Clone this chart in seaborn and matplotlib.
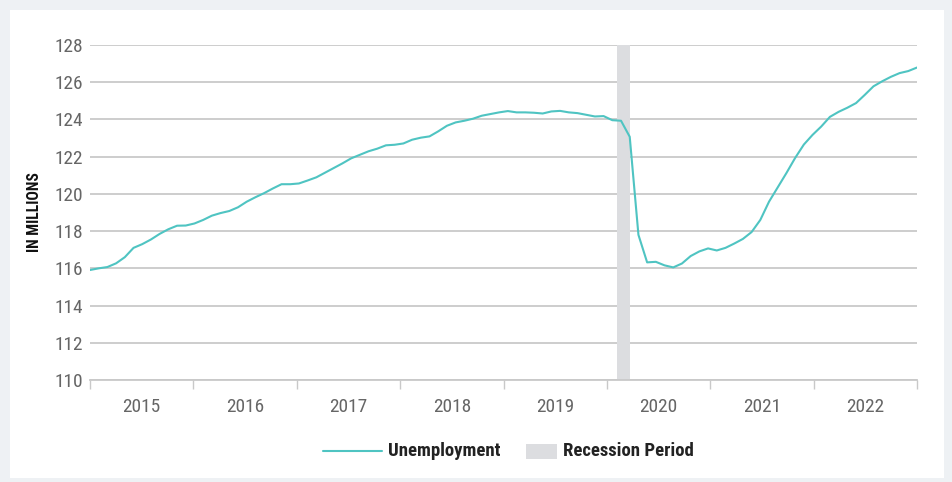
import os
import numpy as np
import pandas as pd
import matplotlib
matplotlib.use("Agg")
import matplotlib.pyplot as plt
from matplotlib import font_manager
from matplotlib.lines import Line2D
from matplotlib.patches import Rectangle
from matplotlib.textpath import TextPath
import seaborn as sns

# monthly values, Jan 2015 .. Dec 2022 (millions)
YEARS = [2015, 2016, 2017, 2018, 2019, 2020, 2021, 2022]
UNEMPLOYMENT = [
    115.91, 116.00, 116.07, 116.27, 116.60, 117.10, 117.30, 117.55, 117.85, 118.10, 118.29, 118.30,
    118.41, 118.60, 118.83, 118.97, 119.08, 119.28, 119.58, 119.82, 120.04, 120.29, 120.52, 120.52,
    120.56, 120.72, 120.89, 121.14, 121.39, 121.64, 121.91, 122.10, 122.29, 122.43, 122.61, 122.64,
    122.71, 122.91, 123.02, 123.09, 123.36, 123.66, 123.84, 123.93, 124.04, 124.20, 124.29, 124.38,
    124.45, 124.38, 124.38, 124.36, 124.32, 124.43, 124.46, 124.38, 124.34, 124.25, 124.16, 124.18,
    123.96, 123.93, 123.07, 117.80, 116.32, 116.35, 116.16, 116.05, 116.26, 116.66, 116.91, 117.07,
    116.96, 117.10, 117.33, 117.58, 117.95, 118.60, 119.58, 120.35, 121.12, 121.93, 122.65, 123.17,
    123.62, 124.14, 124.41, 124.63, 124.88, 125.32, 125.78, 126.05, 126.29, 126.49, 126.60, 126.79,
]
RECESSION = (2020.10, 2020.22)
Y_TICKS = list(range(110, 129, 2))
LINE_LABEL = "Unemployment"
BAND_LABEL = "Recession Period"
Y_LABEL = "IN MILLIONS"

TEAL = "#4fc4c2"
BAND = "#dcdde0"
GRID = "#c9c9c9"


def narrow_font(bold=False):
    # prefer a condensed face if one happens to be installed
    if bold:
        wanted = ["LiberationSansNarrow-Bold.", "RobotoCondensed-Bold.", "OpenSans-CondBold.",
                  "OpenSans_Condensed-Bold.", "DejaVuSansCondensed-Bold."]
    else:
        wanted = ["LiberationSansNarrow-Regular.", "RobotoCondensed-Regular.", "OpenSans-CondLight.",
                  "OpenSans_Condensed-Regular.", "DejaVuSansCondensed."]
    for name in wanted:
        for f in font_manager.fontManager.ttflist:
            if os.path.basename(f.fname).startswith(name):
                return font_manager.FontProperties(fname=f.fname)
    return font_manager.FontProperties(family="DejaVu Sans", weight="bold" if bold else "normal")


def fit_size(text, fp, width_px, cap_px):
    # font size (pt) that roughly hits the reference width and cap height
    p = fp.copy()
    p.set_size(10)
    w = TextPath((0, 0), text, prop=p).get_extents().width * 100 / 72
    h = TextPath((0, 0), "H", prop=p).get_extents().height * 100 / 72
    s_w = 10 * width_px / w
    s_h = 10 * cap_px / h
    return 0.7 * s_w + 0.3 * s_h


sns.set_style("white")
plt.rcParams["font.family"] = ["DejaVu Sans"]

reg_font = narrow_font(False)
bold_font = narrow_font(True)
tick_size = fit_size("2015", reg_font, 35, 15)
legend_size = fit_size(LINE_LABEL, bold_font, 109, 14)
ylabel_size = fit_size(Y_LABEL, bold_font, 73, 13)

df = pd.DataFrame({
    "x": np.linspace(YEARS[0], YEARS[-1] + 1, len(UNEMPLOYMENT)),
    "value": UNEMPLOYMENT,
})

fig = plt.figure(figsize=(9.53, 4.82), dpi=100, facecolor="#eef1f4")
fig.patches.append(Rectangle((10 / 953, 4 / 482), 934 / 953, 468 / 482,
                             transform=fig.transFigure, facecolor="white",
                             edgecolor="none", zorder=-5))
ax = fig.add_axes([90 / 953, 1 - 380 / 482, 827 / 953, 335 / 482])
ax.set_zorder(2)
ax.set_facecolor("none")

ax.axvspan(RECESSION[0], RECESSION[1], color=BAND, lw=0, zorder=1)
sns.lineplot(data=df, x="x", y="value", ax=ax, color=TEAL, lw=1.5, zorder=3)

ax.set_xlim(YEARS[0], YEARS[-1] + 1)
ax.set_ylim(Y_TICKS[0], Y_TICKS[-1])
ax.set_yticks(Y_TICKS)
ax.yaxis.grid(True, color=GRID, lw=1.3, zorder=0)
ax.set_axisbelow(True)

ax.set_xticks(YEARS + [YEARS[-1] + 1])
ax.set_xticklabels([])
ax.set_xticks([y + 0.5 for y in YEARS], minor=True)
ax.set_xticklabels([str(y) for y in YEARS], minor=True)
ax.tick_params(axis="x", which="major", bottom=True, length=6.5, width=1, color=GRID)
ax.tick_params(axis="x", which="minor", bottom=True, length=0, pad=13, labelcolor="#666666")
ax.tick_params(axis="y", length=0, pad=5, labelcolor="#666666")
for lab in ax.get_xticklabels(minor=True) + ax.get_yticklabels():
    lab.set_fontproperties(reg_font)
    lab.set_fontsize(tick_size)

for side in ["left", "right", "top"]:
    ax.spines[side].set_visible(False)
ax.spines["bottom"].set_color(GRID)
ax.spines["bottom"].set_linewidth(1.3)
ax.set_xlabel("")
ax.set_ylabel("")

fig.text(35 / 953, 1 - 212 / 482, Y_LABEL, rotation=90, ha="center", va="center",
         fontproperties=bold_font, fontsize=ylabel_size, color="#111111")

# legend drawn below the plot
ly = 1 - 451 / 482
fig.lines.append(Line2D([323 / 953, 382 / 953], [ly, ly], transform=fig.transFigure,
                        color=TEAL, lw=1.5))
fig.text(388 / 953, ly, LINE_LABEL, ha="left", va="center",
         fontproperties=bold_font, fontsize=legend_size, color="#222222")
fig.patches.append(Rectangle((526 / 953, 1 - 459 / 482), 31 / 953, 15 / 482,
                             transform=fig.transFigure, facecolor=BAND, edgecolor="none"))
fig.text(563 / 953, ly, BAND_LABEL, ha="left", va="center",
         fontproperties=bold_font, fontsize=legend_size, color="#222222")

fig.savefig("out.png", dpi=100, facecolor=fig.get_facecolor())
